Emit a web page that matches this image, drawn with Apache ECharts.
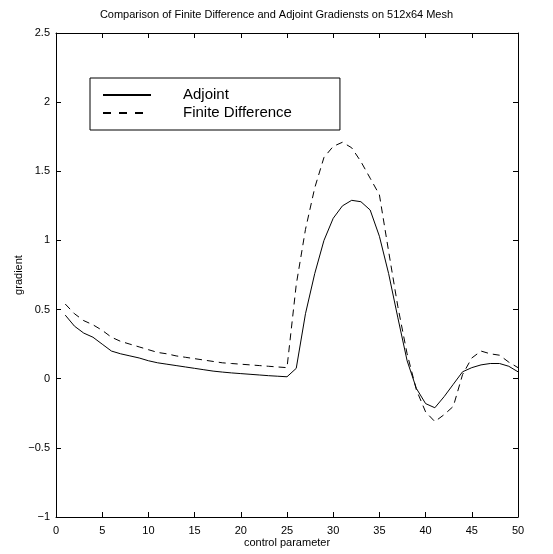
<!DOCTYPE html>
<html>
<head>
<meta charset="utf-8">
<script src="https://cdn.jsdelivr.net/npm/echarts@6/dist/echarts.min.js"></script>
<style>html,body{margin:0;padding:0;background:#fff;}#c{width:553px;height:554px;}</style>
</head>
<body>
<div id="c"></div>
<script>
var controlParam = [1,2,3,4,5,6,7,8,9,10,11,12,13,14,15,16,17,18,19,20,21,22,23,24,25,26,27,28,29,30,31,32,33,34,35,36,37,38,39,40,41,42,43,44,45,46,47,48,49,50];
var adjoint = [0.46,0.38,0.33,0.30,0.25,0.20,0.18,0.165,0.15,0.13,
  0.115,0.105,0.095,0.085,0.075,0.065,0.055,0.048,0.042,0.037,
  0.032,0.027,0.022,0.018,0.014,0.075,0.47,0.76,1.0,1.16,
  1.25,1.29,1.28,1.22,1.03,0.76,0.44,0.13,-0.07,-0.18,
  -0.21,-0.13,-0.04,0.05,0.08,0.10,0.11,0.11,0.09,0.05];
var finiteDiff = [0.54,0.47,0.42,0.39,0.35,0.30,0.27,0.25,0.23,0.21,
  0.19,0.18,0.165,0.155,0.145,0.135,0.125,0.115,0.11,0.105,
  0.10,0.095,0.09,0.085,0.08,0.68,1.08,1.38,1.6,1.68,
  1.71,1.67,1.57,1.45,1.33,0.92,0.52,0.18,-0.08,-0.24,
  -0.31,-0.26,-0.2,0.03,0.15,0.2,0.18,0.17,0.12,0.08];
var seriesNames = ['Adjoint', 'Finite Difference'];
var titleText = 'Comparison of Finite Difference and Adjoint Gradiensts on 512x64 Mesh';
var xName = 'control parameter';
var yName = 'gradient';

function pairs(ys){ return controlParam.map(function(x,i){ return [x, ys[i]]; }); }
var FONT = 'Liberation Sans';
var chart = echarts.init(document.getElementById('c'), null, {renderer:'canvas'});
function tickStyle(){ return {show:true, inside:true, length:5, lineStyle:{color:'#000', width:1}}; }
function lineAx(){ return {show:true, onZero:false, lineStyle:{color:'#000', width:1}}; }
chart.setOption({
  animation:false,
  backgroundColor:'#fff',
  title:{text:titleText, left:'center', top:4, textStyle:{fontFamily:FONT, fontSize:11, fontWeight:'normal', color:'#000'}},
  grid:{left:56, right:35, top:33, bottom:37, show:false, containLabel:false},
  legend:{
    left:90, top:78, orient:'vertical', itemGap:0, itemWidth:48, itemHeight:18,
    padding:[8,48,8,12], borderColor:'#000', borderWidth:1, backgroundColor:'#fff',
    itemStyle:{opacity:0},
    textStyle:{fontFamily:FONT, fontSize:15, lineHeight:18, color:'#000', padding:[0,0,0,27]},
    data:[
      {name:seriesNames[0], lineStyle:{type:'solid'}},
      {name:seriesNames[1], lineStyle:{type:[8,8]}}
    ]
  },
  xAxis:[
    {type:'value', min:0, max:50, interval:5, position:'bottom', name:xName, nameLocation:'middle', nameGap:20,
     nameMoveOverlap:false,
     nameTextStyle:{fontFamily:FONT, fontSize:11, color:'#000'},
     axisLine:lineAx(), axisTick:tickStyle(), splitLine:{show:false},
     axisLabel:{fontFamily:FONT, fontSize:11, color:'#000', margin:8}},
    {type:'value', min:0, max:50, interval:5, position:'top',
     axisLine:lineAx(), axisTick:tickStyle(), splitLine:{show:false}, axisLabel:{show:false}}
  ],
  yAxis:[
    {type:'value', min:-1, max:2.5, interval:0.5, position:'left', name:yName, nameLocation:'middle', nameGap:32,
     nameMoveOverlap:false,
     nameTextStyle:{fontFamily:FONT, fontSize:11, color:'#000'},
     axisLine:lineAx(), axisTick:tickStyle(), splitLine:{show:false},
     axisLabel:{fontFamily:FONT, fontSize:11, color:'#000', margin:6,
       formatter:function(v){ return v < 0 ? '\u2212' + Math.abs(v) : String(v); }}},
    {type:'value', min:-1, max:2.5, interval:0.5, position:'right',
     axisLine:lineAx(), axisTick:tickStyle(), splitLine:{show:false}, axisLabel:{show:false}}
  ],
  series:[
    {name:seriesNames[0], type:'line', data:pairs(adjoint), symbol:'none', showSymbol:false,
     lineStyle:{color:'#000', width:1, type:'solid'}, itemStyle:{color:'#000'}},
    {name:seriesNames[1], type:'line', data:pairs(finiteDiff), symbol:'none', showSymbol:false,
     lineStyle:{color:'#000', width:1, type:[7,5]}, itemStyle:{color:'#000'}}
  ]
});
</script>
</body>
</html>
